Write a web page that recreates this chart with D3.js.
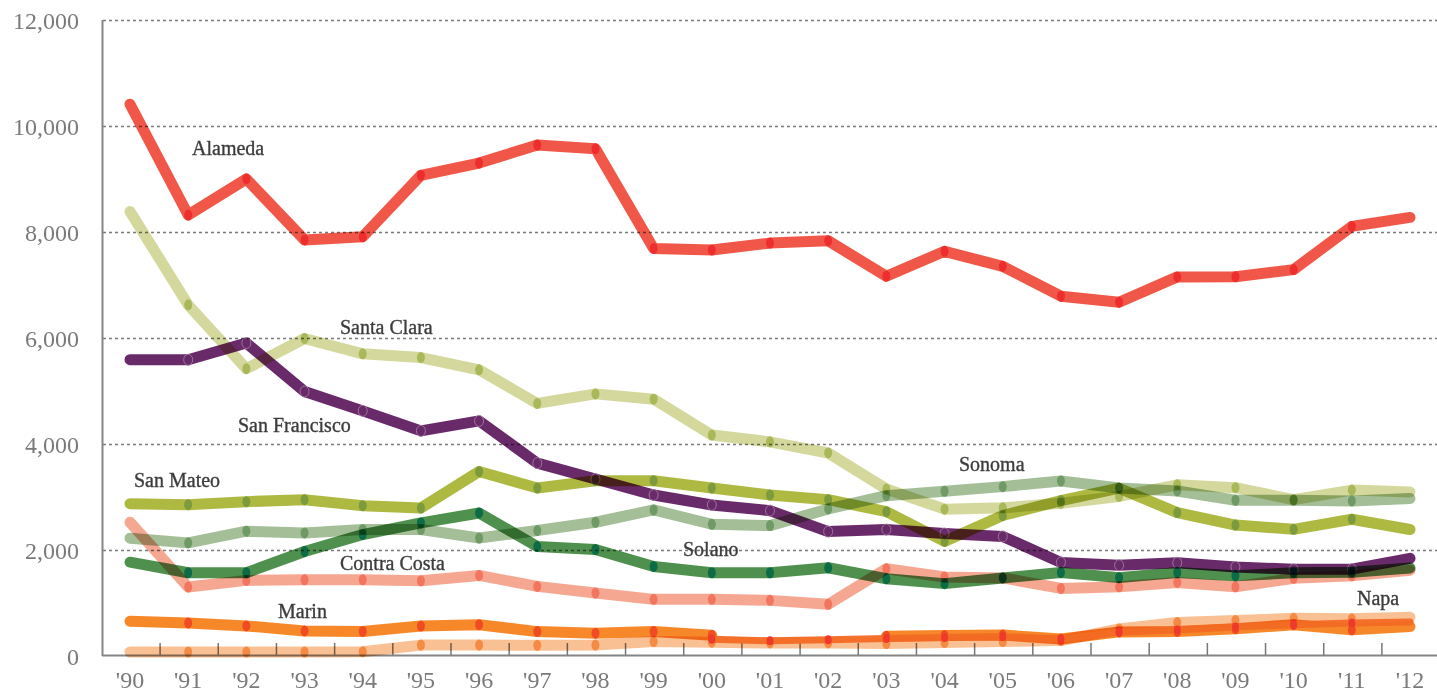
<!DOCTYPE html>
<html>
<head>
<meta charset="utf-8">
<script src="https://cdn.jsdelivr.net/npm/d3@7"></script>
<style>
  html, body { margin: 0; padding: 0; background: #fff; }
  svg { display: block; }
  .lbl { font-family: "Liberation Serif", "DejaVu Serif", serif; }
</style>
</head>
<body>
<svg id="chart" width="1437" height="695"></svg>
<script>
const years = d3.range(1990, 2013);
const yearLabels = ["'90","'91","'92","'93","'94","'95","'96","'97","'98","'99","'00","'01","'02","'03","'04","'05","'06","'07","'08","'09","'10","'11","'12"];
const yTicks = [0, 2000, 4000, 6000, 8000, 10000, 12000];

const alameda      = [10420, 8330, 9010, 7860, 7920, 9080, 9310, 9650, 9580, 7700, 7670, 7800, 7843, 7175, 7645, 7362, 6798, 6685, 7162, 7166, 7300, 8115, 8285];
const santaClara   = [8396, 6635, 5430, 6000, 5711, 5641, 5409, 4775, 4955, 4855, 4178, 4050, 3840, 3160, 2780, 2805, 2890, 3020, 3240, 3185, 2960, 3140, 3105];
const sanFrancisco = [5600, 5598, 5915, 5000, 4635, 4257, 4445, 3649, 3348, 3047, 2859, 2752, 2357, 2395, 2320, 2265, 1775, 1722, 1767, 1690, 1645, 1648, 1852];
const sanMateo     = [2884, 2865, 2922, 2959, 2846, 2802, 3490, 3179, 3317, 3317, 3179, 3047, 2959, 2733, 2172, 2660, 2942, 3175, 2715, 2480, 2400, 2590, 2396];
const sonoma       = [2232, 2144, 2364, 2332, 2395, 2395, 2235, 2376, 2533, 2765, 2495, 2470, 2784, 3034, 3118, 3205, 3312, 3180, 3123, 2948, 2948, 2935, 2980];
const solano       = [1780, 1580, 1580, 1981, 2301, 2520, 2708, 2075, 2019, 1699, 1580, 1580, 1674, 1467, 1375, 1482, 1585, 1488, 1585, 1523, 1580, 1590, 1670];
const contraCosta  = [2533, 1310, 1436, 1448, 1448, 1429, 1530, 1323, 1197, 1078, 1078, 1059, 984, 1655, 1500, 1482, 1284, 1315, 1397, 1315, 1475, 1523, 1627];
const marin        = [664, 633, 577, 483, 472, 575, 600, 470, 440, 470, 400, null, null, 380, 395, 405, 330, 464, 472, 522, 600, 503, 566];
const marinLate    = [null, null, null, null, null, null, null, null, null, null, 327, 296, 315, 340, 360, 377, 327, 459, 500, 555, 600, 630, 650];
const napa         = [85, 85, 85, 85, 90, 215, 215, 210, 215, 283, 270, 255, 255, 245, 262, 283, 300, 520, 641, 679, 720, 711, 742];

const seriesNames = ["Napa","Marin","","Contra Costa","Solano","Sonoma","San Mateo","Santa Clara","San Francisco","Alameda"];
const seriesValues = [napa, marin, marinLate, contraCosta, solano, sonoma, sanMateo, santaClara, sanFrancisco, alameda];
const lineColors = ["#f9bd8e","#f5821f","#f26a24","#f6a28c","#468a44","#9fbb91","#a9b537","#d2d698","#611f61","#f04e3e"];
const dotColors  = ["#f58a45","#ef4c23","#ee3a2b","#f2765f","#0d6b45","#6f9a66","#7d9a3c","#a9b95a","none","#ee2e2e"];
const lineWidths = [11, 11, 7, 11, 11, 11, 11, 11, 11, 11];

const labelNames = ["Alameda","Santa Clara","San Francisco","San Mateo","Contra Costa","Marin","Solano","Sonoma","Napa"];
const labelX = [192, 340, 238, 134, 340, 278, 683, 959, 1357];
const labelY = [155, 334, 432, 487, 570, 618, 556, 471, 605];

const svg = d3.select("#chart");
const x = d3.scaleLinear().domain([1990, 2012]).range([130, 1410]);
const y = d3.scaleLinear().domain([0, 12000]).range([656.5, 20.5]);

// gridlines
svg.append("g").selectAll("line")
  .data(yTicks.filter(d => d > 0))
  .join("line")
  .attr("x1", 103).attr("x2", 1437)
  .attr("y1", d => y(d)).attr("y2", d => y(d))
  .attr("stroke", "#7a7a7a").attr("stroke-width", 1.4)
  .attr("stroke-dasharray", "3,3");

// y labels
svg.append("g").selectAll("text")
  .data(yTicks)
  .join("text")
  .attr("class", "lbl")
  .attr("x", 79).attr("y", d => y(d) + 8)
  .attr("text-anchor", "end")
  .attr("font-size", 24)
  .attr("fill", "#7a7a7a")
  .text(d => d3.format(",")(d));

// axes lines
svg.append("line").attr("x1", 102.5).attr("x2", 102.5).attr("y1", 20).attr("y2", 656)
  .attr("stroke", "#858585").attr("stroke-width", 2);
svg.append("line").attr("x1", 102).attr("x2", 1437).attr("y1", 655.5).attr("y2", 655.5)
  .attr("stroke", "#858585").attr("stroke-width", 2);

// x ticks
svg.append("g").selectAll("line")
  .data(years)
  .join("line")
  .attr("x1", d => x(d + 0.5) + 1).attr("x2", d => x(d + 0.5) + 1)
  .attr("y1", 643).attr("y2", 655)
  .attr("stroke", "#777").attr("stroke-width", 1.5);

// x labels
svg.append("g").selectAll("text")
  .data(years)
  .join("text")
  .attr("class", "lbl")
  .attr("x", d => x(d)).attr("y", 688)
  .attr("text-anchor", "middle")
  .attr("font-size", 24)
  .attr("fill", "#7a7a7a")
  .text((d, i) => yearLabels[i]);

// lines
const line = d3.line()
  .defined(d => d.v !== null)
  .x(d => x(d.year)).y(d => y(d.v));

const gLines = svg.append("g");
seriesValues.forEach((vals, si) => {
  const data = years.map((yr, i) => ({ year: yr, v: vals[i] }));
  const g = gLines.append("g").style("mix-blend-mode", si === 2 ? "normal" : "multiply");
  g.append("path")
    .datum(data)
    .attr("d", line)
    .attr("fill", "none")
    .attr("stroke", lineColors[si])
    .attr("stroke-width", lineWidths[si])
    .attr("stroke-linecap", "round")
    .attr("stroke-linejoin", "round")
    .attr("opacity", 0.95);
  const pts = data.filter((d, i) => d.v !== null && i > 0 && i < data.length - 1);
  if (dotColors[si] === "none") {
    g.selectAll("ellipse").data(pts).join("ellipse")
      .attr("cx", d => x(d.year)).attr("cy", d => y(d.v))
      .attr("rx", 4.5).attr("ry", 5.5)
      .attr("fill", "none")
      .attr("stroke", "#a07aa0").attr("stroke-width", 0.9);
  } else {
    g.selectAll("ellipse").data(pts).join("ellipse")
      .attr("cx", d => x(d.year)).attr("cy", d => y(d.v))
      .attr("rx", si === 2 ? 3.5 : 4).attr("ry", si === 2 ? 4.5 : 5.5)
      .attr("fill", dotColors[si]);
  }
});

// series labels
svg.append("g").selectAll("text")
  .data(labelNames)
  .join("text")
  .attr("class", "lbl")
  .attr("x", (d, i) => labelX[i]).attr("y", (d, i) => labelY[i])
  .attr("font-size", 20)
  .attr("fill", "#3c3c3c")
  .attr("stroke", "#3c3c3c")
  .attr("stroke-width", 0.35)
  .text(d => d);
</script>
</body>
</html>
